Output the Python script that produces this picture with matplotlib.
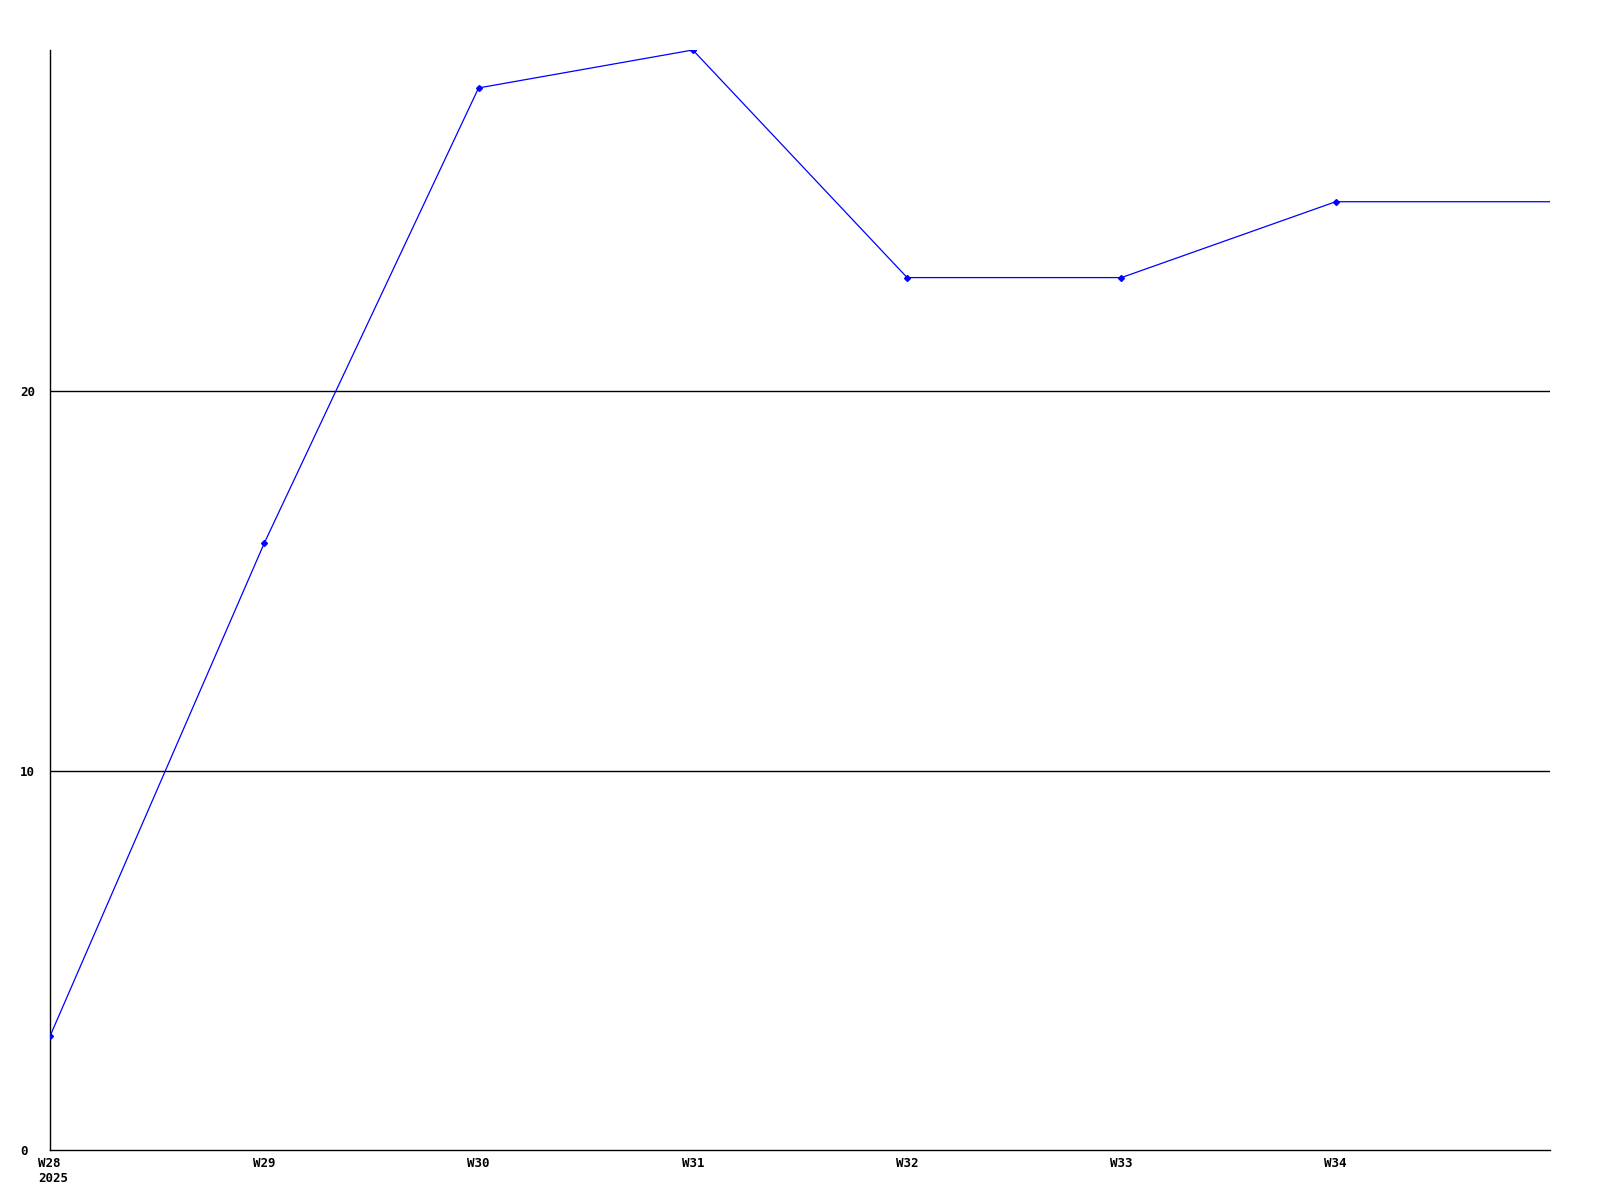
import matplotlib.pyplot as plt
import matplotlib.transforms as mtransforms

weeks = ['W28\n2025', 'W29', 'W30', 'W31', 'W32', 'W33', 'W34', '']
values = [3, 16, 28, 29, 23, 23, 25, 25]
y_ticks = [0, 10, 20]

plt.rcParams['font.family'] = 'DejaVu Sans Mono'

fig = plt.figure(figsize=(16, 12), dpi=100)
ax = fig.add_axes([50 / 1600, 50 / 1200, 1500 / 1600, 1100 / 1200])

x = list(range(len(values)))
ax.plot(x, values, color='#0000ff', linewidth=0.9,
        marker='D', markersize=3, markevery=list(range(len(values) - 1)),
        zorder=3)

ax.set_xlim(0, len(values) - 1)
ax.set_ylim(0, 29)
ax.set_xticks(x[:-1])
ax.set_xticklabels(weeks[:-1], fontsize=9, fontweight='bold')
ax.set_yticks(y_ticks)
ax.set_yticklabels([str(v) for v in y_ticks], fontsize=9, fontweight='bold')
ax.tick_params(axis='x', length=0, pad=5)
ax.tick_params(axis='y', length=0, pad=21.6)
for lbl in ax.get_yticklabels():
    lbl.set_horizontalalignment('left')
for lbl in ax.get_xticklabels():
    lbl.set_linespacing(1.2)
    lbl.set_multialignment('left')

# first label block sits a little right of centre, as in the original
first = ax.get_xticklabels()[0]
first.set_transform(first.get_transform() +
                    mtransforms.ScaledTranslation(3 / 100, 0, fig.dpi_scale_trans))

for v in y_ticks[1:]:
    ax.axhline(v, color='black', linewidth=1.0, zorder=1)

ax.spines['top'].set_visible(False)
ax.spines['right'].set_visible(False)
ax.spines['left'].set_linewidth(1.0)
ax.spines['bottom'].set_linewidth(1.0)

fig.savefig('out.png', dpi=100)
